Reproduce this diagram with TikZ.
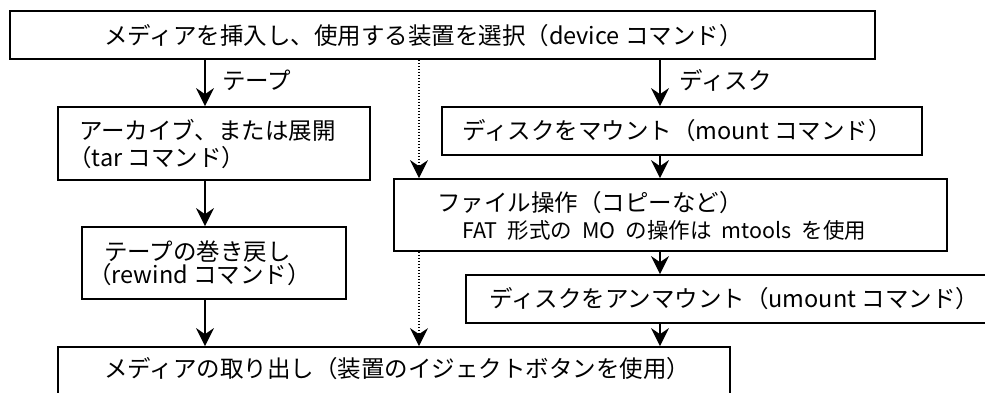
\documentclass[tikz,border=0pt]{standalone}
\usepackage{fontspec}
\setmainfont{Noto Sans CJK JP}
\usetikzlibrary{arrows.meta}
\tikzset{
  box/.style={draw=black, line width=1.8pt, fill=none, inner sep=0pt},
  txt/.style={anchor=base west, inner sep=0pt, font=\fontsize{23.5pt}{28pt}\selectfont},
  smalltxt/.style={anchor=base west, inner sep=0pt, font=\fontsize{21.5pt}{24pt}\selectfont},
  arr/.style={line width=1.6pt, -{Stealth[length=18pt,width=18pt,inset=6pt]}},
  dotarr/.style={line width=1.2pt, dash pattern=on 1.2pt off 1.8pt, -{Stealth[length=18pt,width=18pt,inset=6pt]}}
}
\newcommand{\wsp}{\hspace{10pt}}
\begin{document}
\begin{tikzpicture}[x=1pt,y=-1pt]
\clip (0,0) rectangle (985,392);
\fill[white] (0,0) rectangle (985,392);
% boxes
\node[box, minimum width=865pt, minimum height=48pt] (top) at (442.5,35) {};
\node[box, minimum width=312pt, minimum height=73pt] (archive) at (214,143.5) {};
\node[box, minimum width=480pt, minimum height=48pt] (mount) at (682,131) {};
\node[box, minimum width=553pt, minimum height=72pt] (fileop) at (670.5,215) {};
\node[box, minimum width=264pt, minimum height=72pt] (rewind) at (214,263) {};
\node[box, minimum width=544pt, minimum height=48pt] (umount) at (738,299) {};
\node[box, minimum width=672pt, minimum height=51pt] (eject) at (394,372.5) {};
% texts
\node[txt] (ttop) at (104,44) {メディアを挿入し、使用する装置を選択（device コマンド）};
\node[txt] (ltape) at (222,89) {テープ};
\node[txt] (ldisk) at (679,89) {ディスク};
\node[txt] (ta1) at (79,139) {アーカイブ、または展開};
\node[txt] (ta2) at (68,166) {（tar コマンド）};
\node[txt] (tm) at (462,139) {ディスクをマウント（mount コマンド）};
\node[txt] (tf1) at (437,211) {ファイル操作（コピーなど）};
\node[smalltxt] (tf2) at (462,238) {FAT\wsp 形式の\wsp MO\wsp の操作は\wsp mtools\wsp を使用};
\node[txt] (tr1) at (104,260) {テープの巻き戻し};
\node[txt] (tr2) at (88,283) {（rewind コマンド）};
\node[txt] (tu) at (489,307) {ディスクをアンマウント（umount コマンド）};
\node[txt] (te) at (104,377) {メディアの取り出し（装置のイジェクトボタンを使用）};
% column coordinates
\coordinate (cx1) at (205,0);
\coordinate (cx2) at (419,0);
\coordinate (cx3) at (660,0);
% connectors
\draw[arr] (top.south -| cx1) -- (archive.north -| cx1);
\draw[arr] (archive.south -| cx1) -- (rewind.north -| cx1);
\draw[arr] (rewind.south -| cx1) -- (eject.north -| cx1);
\draw[dotarr] (top.south -| cx2) -- (fileop.north -| cx2);
\draw[dotarr] (fileop.south -| cx2) -- (eject.north -| cx2);
\draw[arr] (top.south -| cx3) -- (mount.north -| cx3);
\draw[arr] (mount.south -| cx3) -- (fileop.north -| cx3);
\draw[arr] (fileop.south -| cx3) -- (umount.north -| cx3);
\draw[arr] (umount.south -| cx3) -- (eject.north -| cx3);
\end{tikzpicture}
\end{document}
